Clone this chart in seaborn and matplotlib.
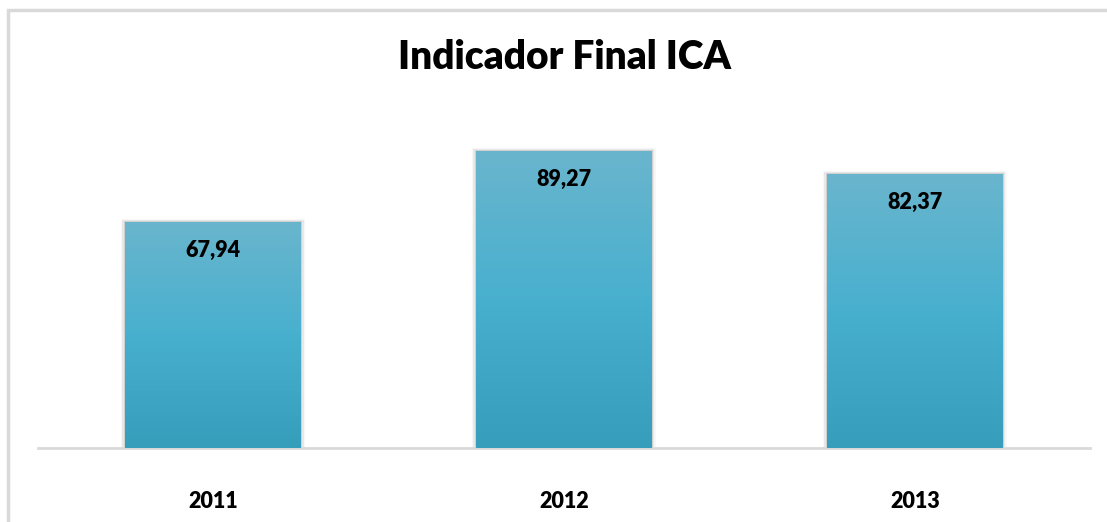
import numpy as np
import pandas as pd
import matplotlib.pyplot as plt
import matplotlib.patches as mpatches
from matplotlib.colors import LinearSegmentedColormap
import seaborn as sns

# Dados do gráfico
anos = ["2011", "2012", "2013"]
valores = [67.94, 89.27, 82.37]
rotulos = ["67,94", "89,27", "82,37"]

df = pd.DataFrame({"Ano": anos, "Indicador": valores})

sns.set_style("white")
plt.rcParams['font.family'] = ['Lato', 'DejaVu Sans']
plt.rcParams['text.color'] = 'black'
plt.rcParams['xtick.color'] = 'black'

fig = plt.figure(figsize=(11.07, 5.22), dpi=100)
ax = fig.add_axes([0.0339, 0.1418, 0.951, 0.638])

sns.barplot(data=df, x="Ano", y="Indicador", color="#4cb0cc", width=0.5,
            linewidth=0, edgecolor="none", ax=ax)
ax.set_ylim(0, 100)
ax.set_xlim(-0.5, 2.5)

# Gradiente nas barras (mais claro em cima, mais escuro embaixo)
cmap = LinearSegmentedColormap.from_list("grad", ["#369dbb", "#48b0cf", "#6ab5cd"])
grad = np.linspace(0, 1, 256).reshape(-1, 1)
for bar in ax.patches:
    x0, w, h = bar.get_x(), bar.get_width(), bar.get_height()
    # sombra leve
    for k, a in enumerate([0.10, 0.06, 0.03]):
        sh = mpatches.Rectangle((x0 - 0.004 * (k + 1), 0), w + 0.008 * (k + 1), h + 0.3 * (k + 1),
                                facecolor="#000000", alpha=a, edgecolor="none", zorder=1)
        ax.add_patch(sh)
    im = ax.imshow(grad, extent=[x0, x0 + w, 0, h], origin="lower", cmap=cmap,
                   aspect="auto", zorder=3)
    im.set_clip_path(bar)
    bar.set_zorder(2)

# Rótulos de valores
for i, (v, r) in enumerate(zip(valores, rotulos)):
    ax.annotate(r, (i, v), xytext=(0, -21), textcoords="offset points",
                ha="center", va="center", fontsize=15.5, fontweight="heavy",
                color="black", zorder=5)

ax.set_xlabel("")
ax.set_ylabel("")
ax.set_yticks([])
ax.tick_params(axis="x", length=0, pad=31, labelsize=15.5)
for lbl in ax.get_xticklabels():
    lbl.set_fontweight("heavy")
for s in ["top", "left", "right"]:
    ax.spines[s].set_visible(False)
ax.spines["bottom"].set_color("#d9d9d9")
ax.spines["bottom"].set_linewidth(2)
ax.set_facecolor("none")

fig.text(0.5095, 0.89, "Indicador Final ICA", ha="center", va="center",
         fontsize=28, fontweight="heavy", color="black")

# Borda do gráfico
borda = mpatches.Rectangle((7.5 / 1107, -0.05), 1.2, 1.05 - 9.5 / 522, transform=fig.transFigure,
                           fill=False, edgecolor="#d9d9d9", linewidth=2.5)
fig.patches.append(borda)

fig.savefig("out.png", dpi=100)
